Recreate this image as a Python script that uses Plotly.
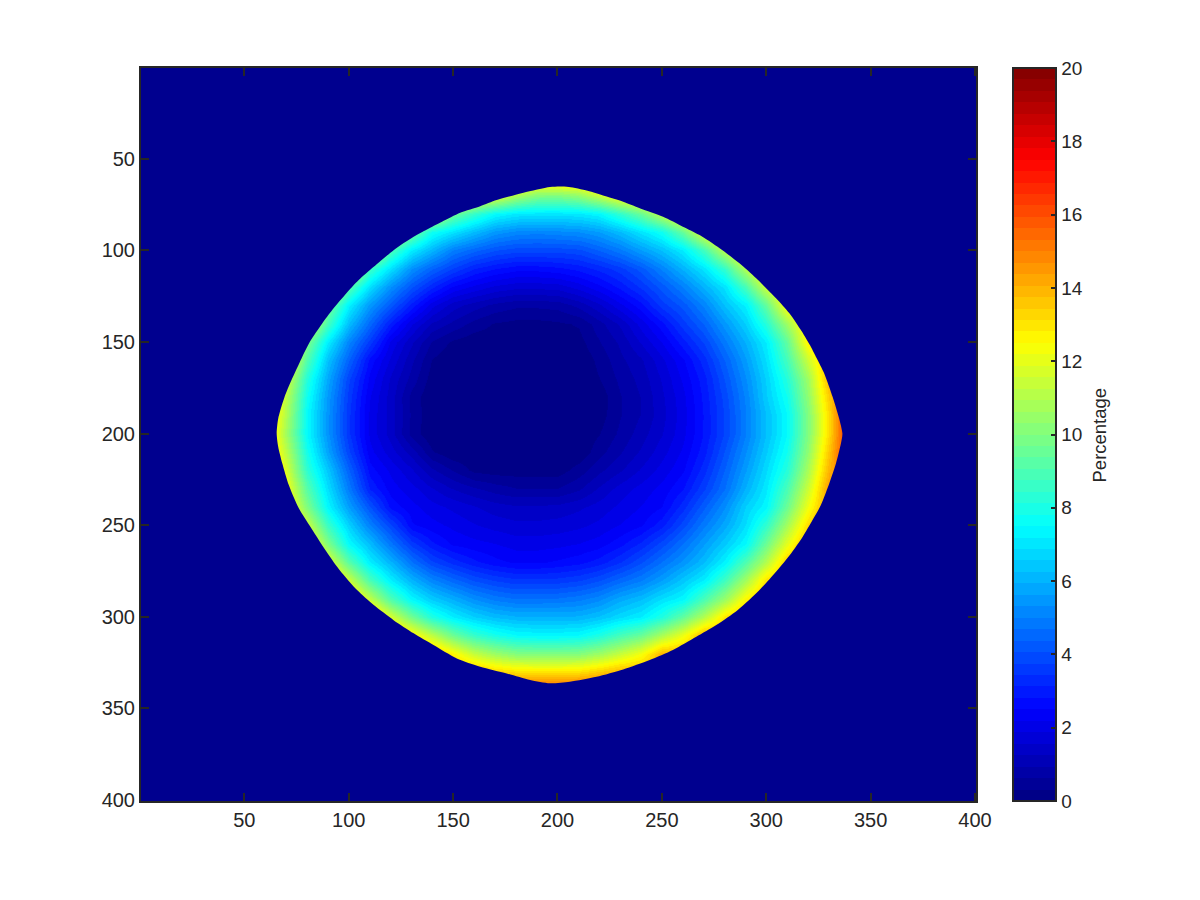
import plotly.graph_objects as go

grid_x = [60,70,80,90,100,110,120,130,140,150,160,170,180,190,200,210,220,230,240,250,260,270,280,290,300,310,320,330,340]
grid_y = [60,70,80,90,100,110,120,130,140,150,160,170,180,190,200,210,220,230,240,250,260,270,280,290,300,310,320,330,340]

percentage = [
 [14,14,14,14,14,14,14,14,14,14,14,14,14,14,14,14,14,14,14,14,14,14,14,14,14,14,14,14,14],
 [14,14,14,14,14,14,14,14,14,14,13,12.3,11,10.2,10.1,10.5,11.5,12.7,13.5,14,14,14,14,14,14,14,14,14,14],
 [13.5,13.5,13.5,13.5,13.5,13.5,13.5,13.5,12,9.7,8.5,7.5,7.1,7,7,7.1,7.4,8.4,9.5,11.2,13,14,14,14,14,14,14,14,14],
 [14,14,14,14,14,14,12.7,9.8,7.8,7,6.2,5.5,5.2,5.1,5.2,5.3,5.6,6.2,7,7.8,9.5,12,14,14,14,14,14,14,14],
 [14,14,14,14,13,12,9,7.2,6.1,5,4.5,4.1,3.9,3.9,3.9,4,4.4,4.9,5.6,6.3,7.2,8.8,11.2,13,14,14,14,14,14],
 [14,14,14,13,12.3,8.7,6.9,5.3,4.4,3.7,3.1,2.8,2.6,2.6,2.7,2.9,3.2,3.6,4.2,5.05,6,7,8.5,11,13,14,14,14,14],
 [14,14,13,13,9.2,6.9,5.3,4.1,3.2,2.45,2.1,1.8,1.65,1.65,1.7,2,2.4,2.9,3.5,4.2,5,6,7,8.9,11.5,13,14,14,14],
 [14,14,13,10,7.3,5.5,4.2,3,2,1.4,1.1,0.85,0.7,0.7,0.75,1.05,1.5,2.1,2.7,3.6,4.2,5.1,6.3,7.3,9.4,12.5,13,14,14],
 [14,13,12,8.8,6.2,4.5,3,1.9,1.2,0.85,0.5,0.28,0.2,0.2,0.25,0.35,0.8,1.3,2,2.7,3.6,4.4,5.5,6.6,8.2,10.6,13,14,14],
 [14,13,10,7.2,5.1,3.6,2.1,1.3,0.6,0.25,0.1,0.1,0.1,0.1,0.1,0.2,0.6,1,1.6,2.2,3,3.8,4.9,6,7.2,9.4,12.7,14,14.5],
 [14,13,9.1,6.3,4.4,2.7,1.8,1,0.3,0.05,0.05,0.05,0.05,0.05,0.05,0.05,0.4,0.85,1.2,1.8,2.45,3.3,4.4,5.6,6.9,8.8,11.5,14,15],
 [13.5,11.8,8.2,5.8,3.8,2.4,1.5,0.8,0.15,0.05,0.05,0.05,0.05,0.05,0.05,0.05,0.3,0.7,1.05,1.6,2.25,3,4.1,5.3,6.6,8.2,10.6,14,16],
 [13.5,11.2,7.8,5.5,3.6,2.2,1.4,0.5,0.05,0.05,0.05,0.05,0.05,0.05,0.05,0.05,0.1,0.6,0.95,1.5,2.1,2.9,3.9,5.1,6.5,7.8,10.3,13.5,16],
 [14,11,7.5,5.4,3.5,2.1,1.4,0.55,0.05,0.05,0.05,0.05,0.05,0.05,0.05,0.05,0.15,0.6,0.95,1.45,2.05,2.85,3.8,5,6.25,7.5,10,13.2,17],
 [14,10.7,7.5,5.4,3.5,2.1,1.4,0.5,0.05,0.05,0.05,0.05,0.05,0.05,0.05,0.05,0.3,0.7,1.1,1.55,2.1,2.85,3.8,5,6.25,7.5,10,13.2,17],
 [14,11.2,7.9,5.7,3.8,2.3,1.7,1.1,0.35,0.07,0.07,0.07,0.07,0.07,0.07,0.07,0.5,0.9,1.3,1.75,2.25,3,4.1,5.3,6.5,7.8,10.3,13.6,17],
 [14,11.8,8.4,6.4,4.4,2.65,2.1,1.6,1,0.6,0.22,0.15,0.15,0.15,0.15,0.45,0.85,1.2,1.6,2,2.45,3.3,4.4,5.6,6.8,8.2,10.8,14,16],
 [14,12.5,9.2,6.9,4.9,3.1,2.35,2,1.6,1.25,1,0.8,0.65,0.65,0.65,0.9,1.3,1.7,2,2.3,2.8,3.7,4.7,6,7.1,8.9,11.5,14.5,15],
 [14,13,10,7.4,5.6,4.1,2.7,2.3,2,1.8,1.6,1.4,1.3,1.3,1.35,1.5,1.7,1.95,2.2,2.5,3.3,4.3,5.3,6.6,7.4,9.6,12.2,14.5,14],
 [14,13.5,11.5,8.6,6.6,5,3.8,2.55,2.3,2.1,1.9,1.75,1.65,1.65,1.7,1.8,1.95,2.2,2.45,3,3.9,4.9,5.8,6.9,8.4,10.7,13.2,14.5,14],
 [14,14,13,10,7.5,6.2,4.8,3.6,2.9,2.45,2.3,2.2,2.05,2.05,2.1,2.2,2.35,2.7,3.2,3.9,4.7,5.6,6.5,7.5,9.6,12,14,14,14],
 [14,14,14,12,9.2,7.2,6,4.7,3.8,3.3,2.9,2.6,2.45,2.45,2.55,2.7,2.95,3.4,4,4.7,5.4,6.2,7.3,9,11,13.5,14,14,14],
 [14,14,14,14,11.5,8.9,7.2,6,5.1,4.5,4,3.7,3.5,3.5,3.55,3.7,4,4.5,4.95,5.6,6.4,7.2,8.7,10.7,13,14,14,14,14],
 [14,14,14,14,13.5,11.3,9,7.4,6.5,5.9,5.3,4.9,4.7,4.7,4.75,4.9,5.2,5.8,6.2,6.9,7.4,8.9,10.5,12.6,14,14,14,14,14],
 [14,14,14,14,14,14,11.7,9.7,8.1,7.2,6.6,6.2,6,6,6,6,6.3,6.8,7.2,8.1,9.4,11,13,14,14,14,14,14,14],
 [14,14,14,14,14,14,14,12.7,11.2,9.6,8.5,7.9,7.5,7.4,7.4,7.5,8,8.8,9.5,10.8,12.1,14,14,14,14,14,14,14,14],
 [14,14,14,14,14,14,14,14,14,12.7,11.4,10.6,10.1,10,10,10.1,10.6,11.4,12.3,14,14,14,14,14,14,14,14,14,14],
 [14,14,14,14,14,14,14,14,14,14,14,13.4,13.1,13,13,13.1,13.5,14,14,14,14,14,14,14,14,14,14,14,14],
 [16,16,16,16,16,16,16,16,16,16,16,16,16,16,16,16,16,16,16,16,16,16,16,16,16,16,16,16,16],
]

# Edge of the bright region, read clockwise from the left tip.
edge_x = [65.5,66.2,69.3,72.6,77.4,81.4,87.3,92.1,99.5,104.8,112,121.5,131.1,137.5,144.7,153.4,163,170.9,183.7,196.4,201,
          205.5,214.4,222.7,231.5,241,250.6,260.1,268.1,277.7,287.2,295.2,304.7,311.1,318,321,324.2,327.8,331.8,335,336.5,
          335.8,333.4,330.2,326.2,322.2,317.5,311.9,304.7,296.8,286.4,276.1,266.5,255.3,244.2,231.5,218.7,206,196.4,
          186.9,175.7,163,151.8,140.6,131.1,121.5,112,104,95.8,90.1,82,76.1,71.3,68.2,66.2,65.5]
edge_y = [200,192,179.9,170.8,159,149.9,139.9,132.6,122.6,116.2,109,99.9,92.6,88.6,84.4,79.5,75.9,72.6,68.6,65.5,65.2,
          65.5,67.5,70.4,73.5,77.7,81.7,87.1,91.7,98.9,107.1,115.3,126.2,134.4,146,151.8,158.9,167.2,179.9,192,200,
          205.4,216.3,227.2,239,247.2,256.3,265.4,275.4,285.4,296.3,304.5,310.9,318.1,323.6,328.7,332.7,335.4,336.3,
          334.5,330.9,327.2,322.7,315.4,309,301.8,293.6,285.4,274.7,265.7,251.5,240.8,228.1,216.3,207,200]

x_ticks = [50,100,150,200,250,300,350,400]
y_ticks = [50,100,150,200,250,300,350,400]
bar_ticks = [0,2,4,6,8,10,12,14,16,18,20]
bar_title = "Percentage"

NAVY = "rgb(0,0,143)"
INK = "#262626"
FONT = "Liberation Sans, Arial, sans-serif"

def jet(i, n=64):
    t = (i + 0.5) / n
    r = min(max(min(4*t-1.5, -4*t+4.5), 0), 1)
    g = min(max(min(4*t-0.5, -4*t+3.5), 0), 1)
    b = min(max(min(4*t+0.5, -4*t+2.5), 0), 1)
    return f"rgb({round(r*255)},{round(g*255)},{round(b*255)})"

stepped = []
for i in range(64):
    stepped.append([i/64, jet(i)])
    stepped.append([(i+1)/64, jet(i)])

fig = go.Figure()
fig.add_trace(go.Heatmap(
    x=grid_x, y=grid_y, z=percentage, zmin=0, zmax=20, zsmooth="best",
    colorscale=stepped, hoverinfo="skip",
    colorbar=dict(
        x=1.0443, xanchor="left", xpad=0, y=0, yanchor="bottom", ypad=0,
        len=1, lenmode="fraction", thickness=43, thicknessmode="pixels",
        outlinecolor=INK, outlinewidth=2,
        tickvals=bar_ticks, ticks="inside", ticklen=6, tickwidth=1.5, tickcolor=INK,
        tickfont=dict(family=FONT, size=19, color=INK),
    ),
))
# Navy surround and the edge as two sub-paths wound in opposite directions, leaving a hole.
fig.add_trace(go.Scatter(
    x=[-300, 700, 700, -300, -300, None] + edge_x[::-1],
    y=[-300, -300, 700, 700, -300, None] + edge_y[::-1],
    mode="lines", line=dict(width=0, color=NAVY, shape="spline", smoothing=0.7),
    fill="toself", fillcolor=NAVY, hoverinfo="skip", showlegend=False,
))

axis_common = dict(
    showgrid=False, zeroline=False, showline=True, linecolor=INK, linewidth=2,
    mirror="allticks", ticks="inside", ticklen=8, tickwidth=1.5, tickcolor=INK,
    tickfont=dict(family=FONT, size=20, color=INK),
)
fig.update_xaxes(range=[0.5, 400.5], tickvals=x_ticks, **axis_common)
fig.update_yaxes(range=[400.5, 0.5], tickvals=y_ticks, **axis_common)
fig.update_layout(
    width=1184, height=884, paper_bgcolor="white", plot_bgcolor=NAVY,
    margin=dict(l=133, r=216, t=60, b=91, pad=0),
    font=dict(family=FONT, color=INK), showlegend=False,
    annotations=[dict(
        text=bar_title, textangle=-90, xref="paper", yref="paper",
        x=1.1485, y=0.5, xanchor="center", yanchor="middle", showarrow=False,
        font=dict(family=FONT, size=18.5, color=INK),
    )],
)
fig.write_html("out.html")
